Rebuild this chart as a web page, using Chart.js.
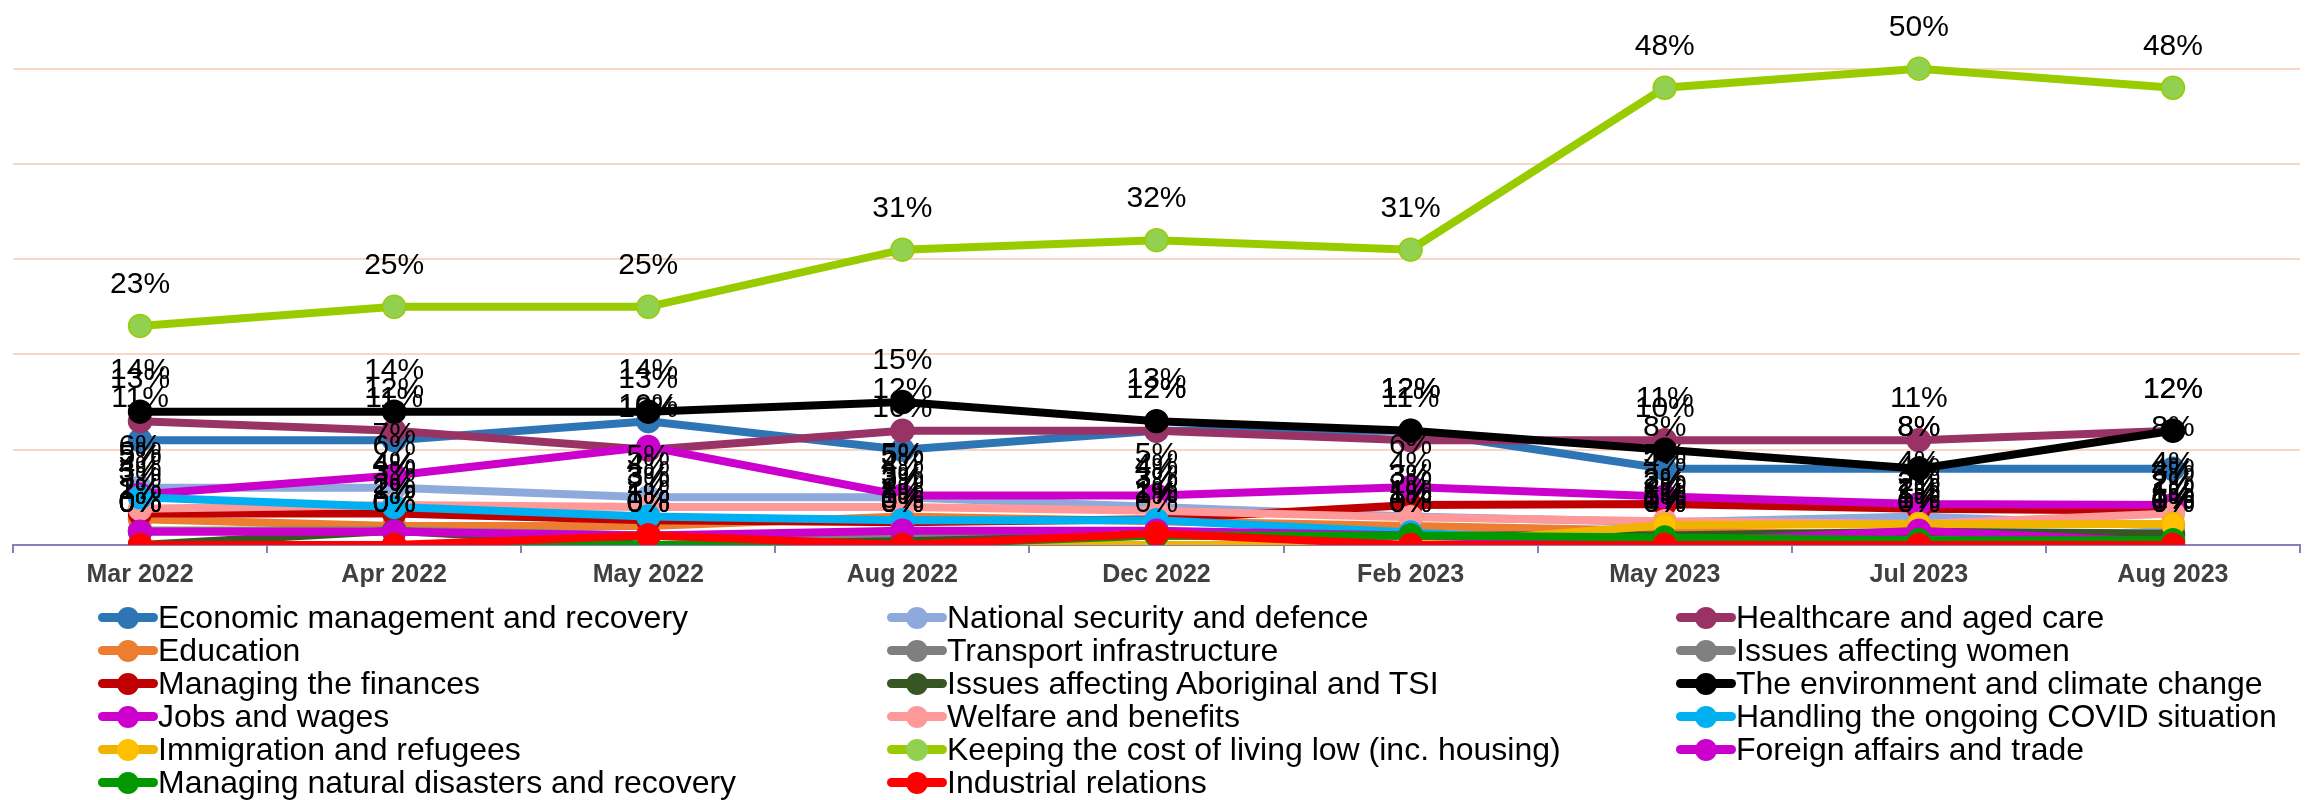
<!DOCTYPE html>
<html>
<head>
<meta charset="utf-8">
<title>Most important issues</title>
<script src="https://cdn.jsdelivr.net/npm/chart.js@4.4.1/dist/chart.umd.min.js"></script>
<style>
    body { margin: 0; background: #fff; overflow: hidden; }
    #wrap { position: relative; width: 2313px; height: 800px; overflow: hidden; }
    #chartBox { position: absolute; left: 0; top: -11px; width: 2313px; height: 611px; }
    #legend {
        position: absolute; left: 98px; top: 601px;
        display: grid; grid-template-columns: 789px 789px 789px; grid-auto-rows: 33px;
        font-family: "Liberation Sans", Arial, sans-serif; font-size: 32px; color: #000;
    }
    .item { display: flex; align-items: center; height: 33px; white-space: nowrap; }
    .mark { position: relative; width: 60px; height: 24px; flex: none; }
    .bar { position: absolute; left: 0; top: 7px; width: 60px; height: 9px; border-radius: 5px; }
    .dot { position: absolute; left: 19px; top: 1px; width: 22px; height: 22px; border-radius: 50%; }
</style>
</head>
<body>
<div id="wrap">
    <div id="chartBox"><canvas id="myChart"></canvas></div>
    <div id="legend"></div>
</div>
<script>
"use strict";

//Survey waves (x axis).
const categories = ['Mar 2022', 'Apr 2022', 'May 2022', 'Aug 2022', 'Dec 2022', 'Feb 2023', 'May 2023', 'Jul 2023', 'Aug 2023'];

//Share of respondents per issue, in percent.
const economicManagement = [11, 11, 13, 10, 12, 12, 8, 8, 8];
const nationalSecurity = [6, 6, 5, 5, 4, 3, 2.4, 3, 2];
const healthcare = [13, 12, 10, 12, 12, 11, 11, 11, 12];
const education = [2.7, 2, 2, 3, 2.5, 2, 1.5, 1, 1];
const transport = [1.5, 1.5, 1, 1, 1, 1, 1, 1, 1];
const issuesWomen = [1.5, 1.5, 1, 1, 1, 1, 0.5, 0.5, 0.5];
const managingFinances = [3.3, 3.3, 2.6, 2.4, 2.7, 4.2, 4.3, 3.8, 3.6];
const aboriginalTsi = [0, 1.5, 0, 0.4, 1, 1, 1, 1.4, 1.2];
const environment = [14, 14, 14, 15, 13, 12, 10, 8, 12];
const jobsWages = [5.3, 7.3, 10.3, 5.2, 5.2, 6.1, 5.1, 4.3, 4.2];
const welfare = [3.8, 4.2, 4, 4, 3.6, 2.9, 2.5, 2.2, 3.3];
const covid = [5, 4, 3, 2.6, 2.6, 1.3, 0, 0, 0];
const immigration = [0, 0, 0, 0, 0, 0, 2.1, 2.2, 2.2];
const costOfLiving = [23, 25, 25, 31, 32, 31, 48, 50, 48];
const foreignAffairs = [1.4, 1.4, 1, 1.5, 1.5, 1, 0.3, 1.5, 0.3];
const naturalDisasters = [0, 0, 0, 0, 1, 1, 0.8, 0.5, 0.5];
const industrialRelations = [0, 0, 1, 0, 1.2, 0, 0, 0, 0];

//Series names in legend order.
const seriesNames = [
    'Economic management and recovery', 'National security and defence', 'Healthcare and aged care',
    'Education', 'Transport infrastructure', 'Issues affecting women',
    'Managing the finances', 'Issues affecting Aboriginal and TSI', 'The environment and climate change',
    'Jobs and wages', 'Welfare and benefits', 'Handling the ongoing COVID situation',
    'Immigration and refugees', 'Keeping the cost of living low (inc. housing)', 'Foreign affairs and trade',
    'Managing natural disasters and recovery', 'Industrial relations'
];

const seriesData = [
    economicManagement, nationalSecurity, healthcare,
    education, transport, issuesWomen,
    managingFinances, aboriginalTsi, environment,
    jobsWages, welfare, covid,
    immigration, costOfLiving, foreignAffairs,
    naturalDisasters, industrialRelations
];

//Line colours and marker colours.
const lineColors = [
    '#2E75B6', '#8EA9DB', '#993366',
    '#ED7D31', '#7F7F7F', '#808080',
    '#C00000', '#375623', '#000000',
    '#CC00CC', '#FF9999', '#00B0F0',
    '#F0B400', '#99CC00', '#CC00CC',
    '#009900', '#FF0000'
];
const markerColors = [
    '#2E75B6', '#8EA9DB', '#993366',
    '#ED7D31', '#7F7F7F', '#808080',
    '#C00000', '#375623', '#000000',
    '#CC00CC', '#FF9999', '#00B0F0',
    '#FFC000', '#92D050', '#CC00CC',
    '#009900', '#FF0000'
];

const axisColor = '#8B7EB8';
const gridColor = '#FAD7C3';

//Builds one dataset per series. Later series are drawn on top, like in Excel.
const datasets = seriesNames.map((name, i) => ({
    label: name,
    data: seriesData[i],
    borderColor: lineColors[i],
    backgroundColor: markerColors[i],
    pointBackgroundColor: markerColors[i],
    pointBorderColor: lineColors[i],
    borderWidth: 8,
    pointRadius: 11.5,
    pointHoverRadius: 11.5,
    pointBorderWidth: 1.5,
    tension: 0,
    order: seriesNames.length - i
}));

//Draws the percentage label above every point.
const dataLabels = {
    id: 'dataLabels',
    afterDatasetsDraw(chart) {
        const ctx = chart.ctx;
        ctx.save();
        ctx.font = '30px "Liberation Sans", Arial, sans-serif';
        ctx.fillStyle = '#000';
        ctx.textAlign = 'center';
        ctx.textBaseline = 'middle';
        chart.data.datasets.forEach((ds, i) => {
            const meta = chart.getDatasetMeta(i);
            meta.data.forEach((pt, j) => {
                ctx.fillText(Math.round(ds.data[j]) + '%', pt.x, pt.y - 41);
            });
        });
        ctx.restore();
    }
};

const chart = new Chart(document.getElementById('myChart'), {
    type: 'line',
    data: {
        labels: categories,
        datasets: datasets
    },
    options: {
        responsive: true,
        maintainAspectRatio: false,
        animation: false,
        layout: { padding: { left: 12, right: 7, top: 0, bottom: 3 } },
        plugins: {
            legend: { display: false },
            tooltip: { enabled: false }
        },
        scales: {
            x: {
                offset: true,
                grid: {
                    offset: true,
                    drawOnChartArea: false,
                    drawTicks: true,
                    tickLength: 8,
                    color: axisColor,
                    lineWidth: 2
                },
                border: { display: true, color: axisColor, width: 2 },
                ticks: {
                    color: '#404040',
                    font: { family: '"Liberation Sans", Arial, sans-serif', size: 25, weight: 'bold' },
                    padding: 7,
                    maxRotation: 0,
                    autoSkip: false
                }
            },
            y: {
                min: 0,
                max: 57,
                ticks: { display: false, stepSize: 10, includeBounds: false },
                grid: {
                    drawTicks: false,
                    lineWidth: 2,
                    color: c => c.tick.value === 0 ? 'rgba(0,0,0,0)' : gridColor
                },
                border: { display: false }
            }
        }
    },
    plugins: [dataLabels]
});

//HTML legend in three columns, built from the chart's datasets.
const legendBox = document.getElementById('legend');
chart.data.datasets.forEach(ds => {
    const item = document.createElement('div');
    item.className = 'item';
    item.innerHTML = '<span class="mark"><span class="bar" style="background:' + ds.borderColor + '"></span>' +
        '<span class="dot" style="background:' + ds.pointBackgroundColor + '"></span></span>' +
        '<span>' + ds.label + '</span>';
    legendBox.appendChild(item);
});
</script>
</body>
</html>
